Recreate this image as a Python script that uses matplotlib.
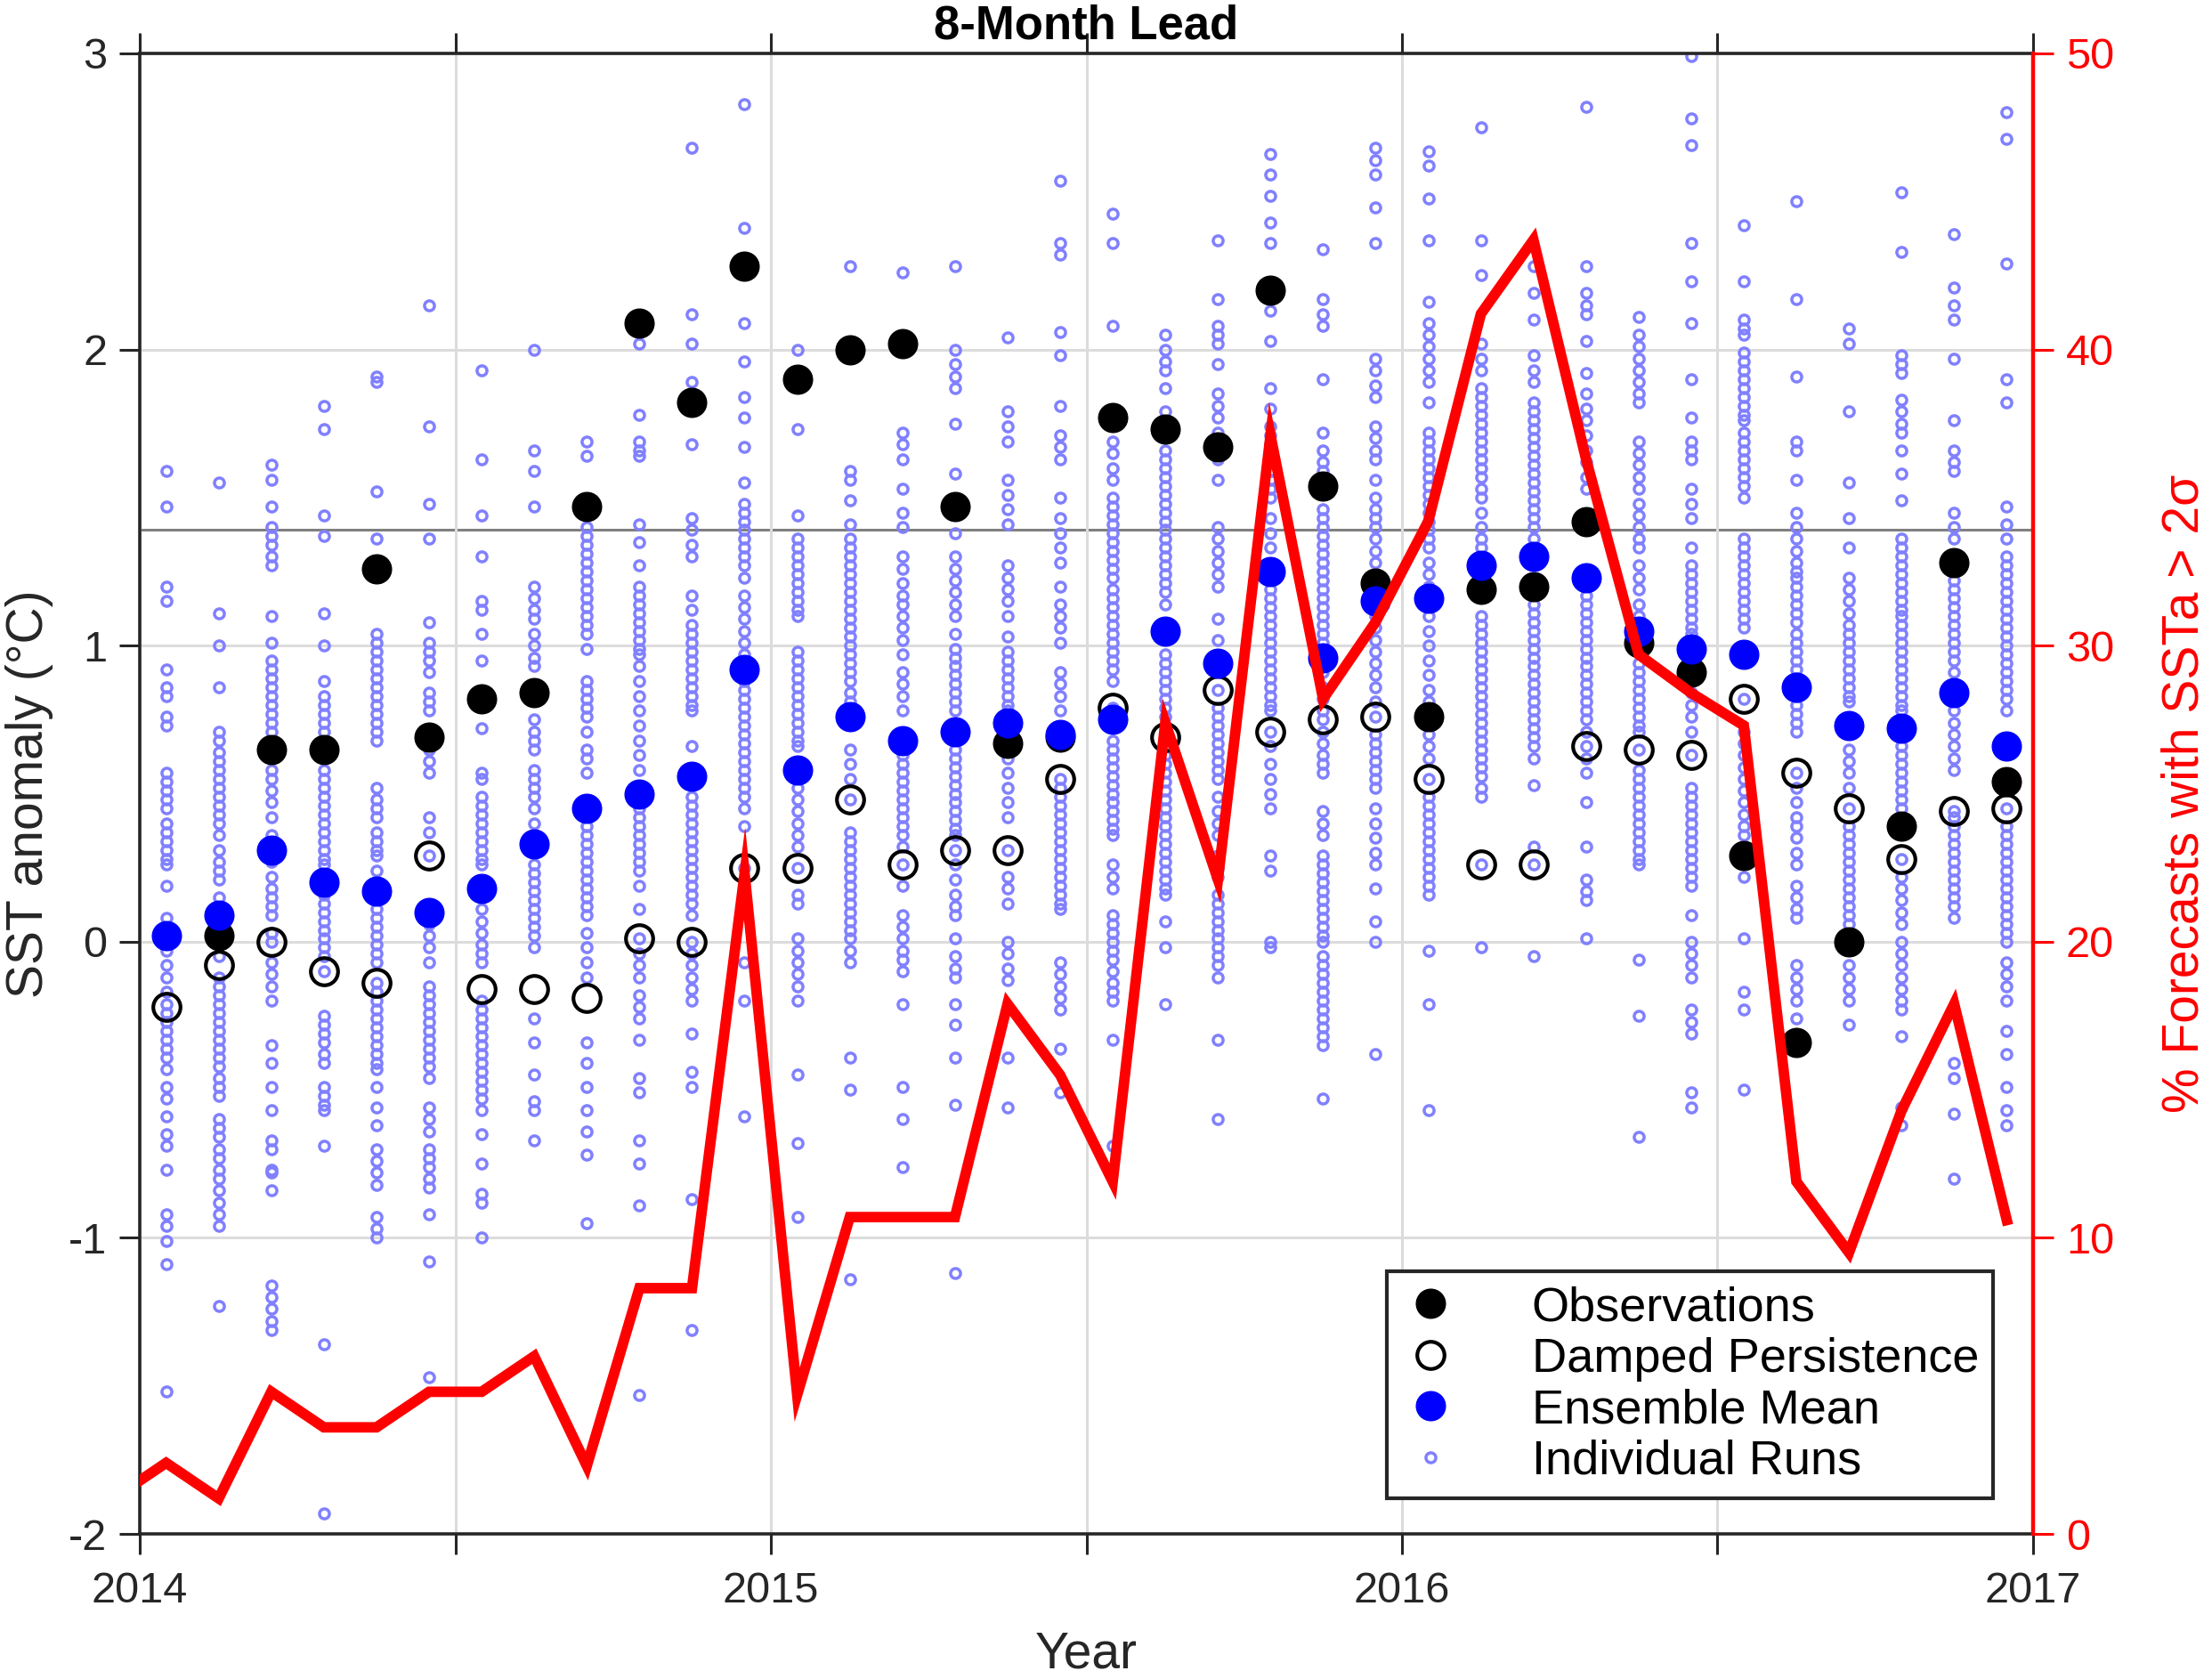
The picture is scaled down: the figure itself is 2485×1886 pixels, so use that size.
import numpy as np
import matplotlib
matplotlib.use("Agg")
import matplotlib.pyplot as plt
from matplotlib.lines import Line2D

plt.rcParams['font.family'] = ['Liberation Sans', 'DejaVu Sans']
plt.rcParams['axes.unicode_minus'] = False

# monthly values, Jan 2014 .. Dec 2016 (plotted mid-month)
month_idx = np.arange(36)

obs = [np.nan, 0.02, 0.65, 0.65, 1.26, 0.69, 0.82, 0.84, 1.47, 2.09, 1.82, 2.28,
       1.90, 2.00, 2.02, 1.47, 0.67, 0.69, 1.77, 1.73, 1.67, 2.20, 1.54, 1.21,
       0.76, 1.19, 1.20, 1.42, 1.01, 0.91, 0.29, -0.34, 0.00, 0.39, 1.28, 0.54]

damped = [-0.22, -0.08, 0.00, -0.10, -0.14, 0.29, -0.16, -0.16, -0.19, 0.01, 0.00, 0.25,
          0.25, 0.48, 0.26, 0.31, 0.31, 0.55, 0.79, 0.69, 0.85, 0.71, 0.75, 0.76,
          0.55, 0.26, 0.26, 0.66, 0.65, 0.63, 0.82, 0.57, 0.45, 0.28, 0.44, 0.45]

ens_mean = [0.02, 0.09, 0.31, 0.20, 0.17, 0.10, 0.18, 0.33, 0.45, 0.50, 0.56, 0.92,
            0.58, 0.76, 0.68, 0.71, 0.74, 0.70, 0.75, 1.05, 0.94, 1.25, 0.96, 1.15,
            1.16, 1.27, 1.30, 1.23, 1.05, 0.99, 0.97, 0.86, 0.73, 0.72, 0.84, 0.66]

# % of forecasts with SSTa > 2 sigma, Dec 2013 .. Dec 2016
pct_idx = np.arange(-1, 36)
pct_2sigma = [1.2, 2.4, 1.2, 4.8, 3.6, 3.6, 4.8, 4.8, 6.0, 2.3, 8.3, 8.3, 22.3,
              4.7, 10.7, 10.7, 10.7, 17.9, 15.5, 11.9, 27.4, 22.1, 37.1, 28.2, 30.8,
              34.2, 41.2, 43.7, 36.3, 29.7, 28.4, 27.3, 11.9, 9.5, 14.3, 17.9, 10.6]

THRESH = 1.39

# individual ensemble runs, one string per month
RUNS = [
    "1.59 1.47 1.20 1.15 0.92 0.86 0.83 0.76 0.73 0.57 0.54 0.51 0.48 0.45 0.40 0.37 0.34 0.31 0.28 0.26 0.19 0.08 -0.03 -0.08 -0.12 -0.17 -0.21 -0.24 -0.27 -0.30 -0.33 -0.36 -0.39 -0.43 -0.49 -0.53 -0.59 -0.65 -0.69 -0.77 -0.92 -0.96 -1.01 -1.09 -1.52",
    "1.55 1.11 1.00 0.86 0.71 0.68 0.64 0.61 0.58 0.55 0.52 0.49 0.46 0.43 0.40 0.36 0.31 0.27 0.24 0.21 0.15 0.05 -0.05 -0.12 -0.15 -0.18 -0.21 -0.24 -0.27 -0.30 -0.33 -0.36 -0.39 -0.42 -0.46 -0.49 -0.52 -0.60 -0.63 -0.66 -0.70 -0.73 -0.77 -0.80 -0.84 -0.88 -0.92 -0.96 -1.23",
    "1.61 1.56 1.47 1.40 1.37 1.34 1.30 1.27 1.10 1.01 0.95 0.92 0.89 0.86 0.83 0.80 0.77 0.74 0.71 0.65 0.58 0.55 0.51 0.47 0.42 0.36 0.31 0.27 0.22 0.18 0.15 0.12 0.09 0.03 0.00 -0.07 -0.11 -0.15 -0.20 -0.35 -0.41 -0.49 -0.57 -0.67 -0.70 -0.77 -0.78 -0.84 -1.16 -1.20 -1.24 -1.28 -1.31",
    "1.81 1.73 1.44 1.37 1.11 1.00 0.88 0.83 0.80 0.77 0.74 0.71 0.65 0.58 0.55 0.52 0.49 0.46 0.43 0.40 0.37 0.34 0.31 0.28 0.26 0.20 0.16 0.13 0.10 0.07 0.04 0.01 -0.02 -0.05 -0.10 -0.25 -0.28 -0.31 -0.34 -0.38 -0.41 -0.49 -0.52 -0.55 -0.57 -0.69 -1.36 -1.93",
    "1.91 1.89 1.52 1.36 1.26 1.04 1.01 0.98 0.95 0.92 0.89 0.86 0.83 0.80 0.77 0.74 0.71 0.68 0.52 0.48 0.45 0.42 0.37 0.34 0.31 0.29 0.24 0.17 0.11 0.08 0.05 0.02 -0.01 -0.04 -0.07 -0.14 -0.17 -0.20 -0.23 -0.26 -0.29 -0.32 -0.35 -0.38 -0.41 -0.43 -0.49 -0.56 -0.62 -0.70 -0.74 -0.78 -0.82 -0.93 -0.97 -1.00",
    "2.15 1.74 1.48 1.36 1.08 1.01 0.98 0.95 0.91 0.84 0.81 0.78 0.70 0.65 0.61 0.57 0.42 0.37 0.29 0.10 0.06 0.02 -0.02 -0.07 -0.15 -0.18 -0.21 -0.24 -0.27 -0.30 -0.33 -0.36 -0.39 -0.42 -0.46 -0.56 -0.60 -0.64 -0.70 -0.73 -0.76 -0.80 -0.83 -0.92 -1.08 -1.47",
    "1.93 1.63 1.44 1.30 1.15 1.12 1.04 0.95 0.72 0.57 0.55 0.49 0.46 0.43 0.40 0.37 0.34 0.31 0.28 0.26 0.18 0.11 0.07 0.03 -0.01 -0.04 -0.07 -0.20 -0.23 -0.26 -0.29 -0.32 -0.35 -0.38 -0.41 -0.44 -0.47 -0.50 -0.53 -0.57 -0.65 -0.75 -0.85 -0.88 -1.00",
    "2.00 1.66 1.59 1.47 1.20 1.16 1.12 1.09 1.04 1.00 0.96 0.93 0.75 0.71 0.68 0.65 0.58 0.55 0.52 0.49 0.45 0.40 0.26 0.23 0.20 0.17 0.14 0.11 0.08 0.05 0.02 -0.02 -0.26 -0.34 -0.45 -0.54 -0.57 -0.67",
    "1.69 1.64 1.40 1.37 1.34 1.31 1.28 1.25 1.22 1.19 1.16 1.13 1.10 1.07 1.04 0.99 0.88 0.85 0.82 0.79 0.76 0.71 0.65 0.62 0.57 0.45 0.39 0.36 0.33 0.30 0.27 0.24 0.21 0.18 0.15 0.12 0.09 0.03 -0.02 -0.07 -0.12 -0.34 -0.41 -0.49 -0.57 -0.64 -0.72 -0.95",
    "2.02 1.78 1.69 1.66 1.64 1.41 1.35 1.27 1.20 1.17 1.14 1.11 1.08 1.05 1.02 0.99 0.97 0.93 0.88 0.83 0.78 0.73 0.68 0.63 0.58 0.50 0.45 0.42 0.39 0.36 0.33 0.30 0.27 0.24 0.19 0.11 0.01 -0.04 -0.08 -0.12 -0.18 -0.22 -0.26 -0.33 -0.46 -0.51 -0.67 -0.75 -0.89 -1.53",
    "2.68 2.12 2.02 1.89 1.68 1.43 1.39 1.34 1.30 1.17 1.12 1.07 1.04 1.01 0.98 0.95 0.92 0.89 0.86 0.83 0.80 0.78 0.66 0.56 0.49 0.46 0.43 0.40 0.37 0.34 0.31 0.28 0.25 0.22 0.19 0.16 0.13 0.09 0.00 -0.04 -0.08 -0.12 -0.16 -0.20 -0.31 -0.44 -0.49 -0.87 -1.31",
    "2.83 2.41 2.09 1.96 1.84 1.77 1.67 1.55 1.48 1.45 1.42 1.39 1.36 1.33 1.30 1.27 1.23 1.17 1.13 1.09 1.05 1.01 0.97 0.92 0.88 0.85 0.82 0.79 0.76 0.73 0.70 0.67 0.64 0.61 0.58 0.55 0.52 0.49 0.45 0.39 0.25 -0.07 -0.20 -0.59",
    "2.00 1.73 1.44 1.36 1.33 1.30 1.27 1.24 1.21 1.18 1.15 1.12 1.10 0.98 0.95 0.92 0.89 0.86 0.83 0.80 0.77 0.74 0.71 0.68 0.66 0.58 0.52 0.48 0.44 0.40 0.36 0.32 0.25 0.16 0.13 0.01 -0.03 -0.07 -0.11 -0.15 -0.20 -0.45 -0.68 -0.93",
    "2.28 1.59 1.56 1.49 1.41 1.36 1.33 1.30 1.27 1.24 1.21 1.18 1.15 1.12 1.09 1.06 1.03 1.00 0.97 0.94 0.91 0.88 0.84 0.81 0.76 0.65 0.60 0.55 0.48 0.37 0.34 0.31 0.28 0.25 0.22 0.19 0.16 0.13 0.10 0.07 0.04 0.01 -0.03 -0.07 -0.39 -0.50 -1.14",
    "2.26 1.72 1.68 1.63 1.53 1.45 1.40 1.30 1.26 1.21 1.17 1.14 1.10 1.06 1.02 0.97 0.91 0.87 0.83 0.78 0.68 0.63 0.60 0.57 0.54 0.51 0.48 0.45 0.42 0.39 0.36 0.32 0.26 0.19 0.09 0.05 0.01 -0.03 -0.06 -0.10 -0.21 -0.49 -0.60 -0.76",
    "2.28 2.00 1.95 1.91 1.87 1.75 1.58 1.38 1.30 1.26 1.22 1.18 1.14 1.10 1.04 0.99 0.96 0.93 0.90 0.87 0.84 0.81 0.78 0.71 0.65 0.62 0.59 0.56 0.53 0.50 0.47 0.44 0.41 0.38 0.36 0.31 0.26 0.21 0.16 0.12 0.09 0.01 -0.05 -0.09 -0.12 -0.21 -0.28 -0.39 -0.55 -1.12",
    "2.04 1.79 1.74 1.69 1.56 1.51 1.46 1.41 1.27 1.23 1.19 1.15 1.10 1.03 0.98 0.95 0.92 0.89 0.86 0.83 0.80 0.78 0.74 0.67 0.62 0.57 0.52 0.47 0.42 0.31 0.22 0.18 0.13 0.00 -0.04 -0.09 -0.13 -0.39 -0.56",
    "2.57 2.36 2.32 2.06 1.98 1.81 1.71 1.67 1.63 1.50 1.43 1.38 1.33 1.28 1.20 1.14 1.10 1.06 1.01 0.91 0.87 0.83 0.78 0.70 0.55 0.52 0.49 0.46 0.43 0.40 0.37 0.34 0.31 0.28 0.25 0.22 0.19 0.16 0.13 0.11 -0.07 -0.11 -0.15 -0.19 -0.23 -0.36 -0.51",
    "2.46 2.36 2.08 1.77 1.69 1.65 1.60 1.56 1.50 1.47 1.44 1.41 1.38 1.35 1.32 1.29 1.26 1.23 1.19 1.16 1.13 1.10 1.07 1.04 1.01 0.98 0.95 0.92 0.88 0.79 0.75 0.68 0.65 0.62 0.59 0.56 0.53 0.50 0.47 0.44 0.41 0.38 0.36 0.26 0.22 0.18 0.09 0.06 0.03 0.00 -0.03 -0.06 -0.10 -0.14 -0.17 -0.20 -0.33 -0.69",
    "2.05 2.00 1.96 1.93 1.87 1.79 1.73 1.66 1.63 1.60 1.57 1.54 1.51 1.48 1.45 1.42 1.39 1.36 1.33 1.30 1.27 1.24 1.21 1.18 1.14 1.05 0.97 0.94 0.91 0.88 0.85 0.82 0.79 0.76 0.73 0.69 0.63 0.60 0.57 0.54 0.51 0.48 0.45 0.42 0.39 0.36 0.33 0.30 0.27 0.24 0.21 0.18 0.16 0.07 -0.02 -0.21",
    "2.37 2.17 2.08 2.05 2.02 1.95 1.85 1.81 1.77 1.72 1.67 1.63 1.56 1.40 1.36 1.32 1.28 1.24 1.20 1.09 1.02 0.94 0.85 0.79 0.76 0.73 0.70 0.67 0.64 0.61 0.58 0.55 0.49 0.44 0.40 0.36 0.29 0.25 0.22 0.16 0.13 0.10 0.07 0.04 0.01 -0.02 -0.05 -0.08 -0.12 -0.33 -0.60",
    "2.66 2.59 2.52 2.43 2.36 2.20 2.13 2.03 1.87 1.80 1.74 1.71 1.68 1.65 1.62 1.59 1.56 1.53 1.50 1.43 1.38 1.33 1.25 1.19 1.16 1.13 1.10 1.07 1.04 1.01 0.98 0.95 0.92 0.89 0.86 0.83 0.80 0.78 0.71 0.66 0.60 0.55 0.50 0.45 0.29 0.24 0.00 -0.02",
    "2.34 2.17 2.12 2.08 1.90 1.72 1.66 1.62 1.59 1.53 1.46 1.43 1.40 1.37 1.34 1.31 1.28 1.25 1.22 1.19 1.16 1.13 1.10 1.07 1.04 1.01 0.96 0.91 0.86 0.82 0.78 0.75 0.71 0.67 0.63 0.60 0.57 0.44 0.40 0.36 0.29 0.26 0.23 0.20 0.17 0.14 0.11 0.08 0.05 0.02 0.00 -0.05 -0.08 -0.11 -0.14 -0.17 -0.20 -0.23 -0.26 -0.29 -0.32 -0.35 -0.53",
    "2.68 2.64 2.59 2.48 2.36 1.97 1.93 1.88 1.84 1.74 1.70 1.66 1.63 1.56 1.50 1.46 1.43 1.40 1.36 1.32 1.28 1.21 1.15 1.10 1.06 1.02 0.98 0.94 0.90 0.86 0.81 0.76 0.70 0.67 0.64 0.61 0.58 0.55 0.52 0.45 0.40 0.35 0.30 0.26 0.18 0.07 0.00 -0.38",
    "2.67 2.62 2.51 2.37 2.16 2.09 2.05 2.01 1.97 1.93 1.89 1.82 1.72 1.69 1.66 1.63 1.60 1.57 1.54 1.51 1.48 1.45 1.42 1.39 1.36 1.33 1.28 1.24 1.20 1.16 1.10 1.05 1.00 0.95 0.90 0.85 0.81 0.76 0.70 0.66 0.62 0.55 0.49 0.46 0.43 0.40 0.37 0.34 0.31 0.28 0.25 0.22 0.19 0.16 -0.03 -0.21 -0.57",
    "2.75 2.37 2.25 2.02 1.97 1.93 1.87 1.84 1.81 1.78 1.75 1.72 1.69 1.66 1.63 1.60 1.57 1.53 1.50 1.45 1.40 1.36 1.33 1.27 1.19 1.10 1.07 1.04 1.01 0.98 0.95 0.92 0.89 0.86 0.83 0.80 0.77 0.74 0.71 0.68 0.65 0.62 0.59 0.56 0.52 0.49 0.26 -0.02",
    "2.28 2.19 2.10 1.98 1.93 1.89 1.82 1.79 1.76 1.73 1.70 1.67 1.64 1.61 1.58 1.55 1.52 1.49 1.46 1.43 1.40 1.36 1.30 1.20 1.14 1.11 1.08 1.05 1.02 0.99 0.96 0.93 0.90 0.87 0.84 0.81 0.78 0.75 0.72 0.69 0.66 0.62 0.53 0.32 0.26 -0.05",
    "2.82 2.28 2.19 2.15 2.12 2.03 1.92 1.85 1.80 1.76 1.71 1.66 1.62 1.57 1.53 1.42 1.23 1.17 1.14 1.11 1.08 1.05 1.02 0.99 0.96 0.93 0.90 0.87 0.84 0.81 0.78 0.75 0.71 0.66 0.62 0.57 0.47 0.32 0.21 0.17 0.14 0.01",
    "2.11 2.05 2.01 1.97 1.93 1.89 1.85 1.82 1.69 1.65 1.61 1.57 1.53 1.48 1.44 1.40 1.36 1.33 1.27 1.23 1.19 1.14 1.10 1.05 1.01 0.94 0.91 0.88 0.85 0.82 0.79 0.76 0.73 0.71 0.65 0.58 0.55 0.52 0.49 0.46 0.43 0.40 0.37 0.34 0.31 0.28 0.26 -0.06 -0.25 -0.66",
    "2.99 2.78 2.69 2.36 2.23 2.09 1.90 1.77 1.69 1.66 1.63 1.53 1.48 1.43 1.33 1.27 1.24 1.21 1.18 1.15 1.12 1.09 1.06 1.04 0.99 0.91 0.84 0.80 0.76 0.71 0.63 0.52 0.49 0.46 0.43 0.40 0.37 0.34 0.31 0.28 0.25 0.22 0.19 0.09 0.00 -0.04 -0.08 -0.12 -0.23 -0.27 -0.31 -0.51 -0.56",
    "2.42 2.23 2.10 2.07 2.05 1.99 1.96 1.93 1.90 1.87 1.84 1.81 1.78 1.76 1.72 1.69 1.66 1.63 1.60 1.57 1.54 1.50 1.36 1.33 1.30 1.27 1.24 1.21 1.18 1.15 1.12 1.09 1.06 0.97 0.82 0.71 0.67 0.63 0.59 0.55 0.51 0.47 0.43 0.39 0.36 0.29 0.22 0.01 -0.17 -0.23 -0.50",
    "2.50 2.17 1.91 1.69 1.66 1.56 1.45 1.40 1.36 1.32 1.28 1.25 1.23 1.20 1.17 1.14 1.11 1.08 1.04 1.01 0.98 0.95 0.92 0.89 0.86 0.83 0.80 0.77 0.74 0.71 0.57 0.52 0.47 0.42 0.39 0.35 0.30 0.26 0.19 0.15 0.11 0.08 -0.08 -0.12 -0.16 -0.20 -0.26",
    "2.07 2.02 1.79 1.55 1.43 1.33 1.23 1.19 1.15 1.11 1.07 1.04 1.01 0.98 0.95 0.92 0.89 0.86 0.83 0.81 0.73 0.65 0.61 0.57 0.52 0.45 0.39 0.36 0.33 0.30 0.27 0.24 0.21 0.18 0.15 0.12 0.09 0.06 0.00 -0.08 -0.12 -0.16 -0.20 -0.28",
    "2.53 2.33 1.98 1.95 1.92 1.83 1.79 1.75 1.72 1.66 1.58 1.49 1.36 1.33 1.30 1.27 1.24 1.21 1.18 1.15 1.12 1.10 1.07 1.04 1.01 0.98 0.95 0.92 0.89 0.86 0.83 0.80 0.78 0.72 0.66 0.63 0.60 0.57 0.54 0.51 0.48 0.45 0.39 0.28 0.22 0.18 0.14 0.10 0.06 0.00 -0.04 -0.08 -0.12 -0.16 -0.20 -0.23 -0.32 -0.56 -0.62",
    "2.39 2.21 2.15 2.10 1.97 1.76 1.66 1.62 1.59 1.45 1.40 1.36 1.28 1.22 1.19 1.16 1.13 1.10 1.07 1.04 1.01 0.98 0.95 0.91 0.84 0.78 0.74 0.70 0.66 0.62 0.58 0.44 0.42 0.39 0.36 0.33 0.30 0.27 0.24 0.21 0.18 0.15 0.12 0.08 -0.41 -0.46 -0.58 -0.80",
    "2.80 2.71 2.29 1.90 1.82 1.47 1.41 1.36 1.30 1.27 1.24 1.21 1.18 1.15 1.12 1.09 1.06 1.03 1.00 0.97 0.94 0.91 0.88 0.85 0.82 0.78 0.66 0.54 0.45 0.39 0.36 0.33 0.30 0.27 0.24 0.21 0.18 0.15 0.12 0.09 0.06 0.03 0.00 -0.07 -0.11 -0.15 -0.20 -0.30 -0.38 -0.49 -0.57 -0.62",
]


def month_to_year(m):
    # decimal year at the middle of month m (0 = Jan 2014)
    return 2014 + (np.asarray(m) + 0.5) / 12


x = month_to_year(month_idx)
runs = [np.array(s.split(), dtype=float) for s in RUNS]
run_x = np.concatenate([np.full(len(r), xi) for r, xi in zip(runs, x)])
run_y = np.concatenate(runs)

DARK = "#262626"
RUN_C = "#8080ff"

fig = plt.figure(figsize=(24.85, 18.86), dpi=100)
ax = fig.add_axes([0.0632, 0.0864, 0.8559, 0.8818])

ax.grid(True, color="#dcdcdc", lw=2.2, zorder=0)
ax.axhline(THRESH, color="#808080", lw=2.2, zorder=1)

ax.plot(run_x, run_y, "o", ms=8, mfc="none", mec=RUN_C, mew=2.5, zorder=2)
ax.plot(x, obs, "o", ms=23.5, color="black", zorder=3)
ax.plot(x, damped, "o", ms=22, mfc="none", mec="black", mew=3.0, zorder=4)
ax.plot(x, ens_mean, "o", ms=23.5, color="#0000ff", zorder=5)

ax.set_xlim(2014, 2017)
ax.set_ylim(-2, 3)
ax.set_xticks(np.arange(2014, 2017.01, 0.5))
ax.set_xticklabels(["2014", "", "2015", "", "2016", "", "2017"])
ax.set_yticks(np.arange(-2, 4))
ax.set_yticklabels(["-2", "-1", "0", "1", "2", "3"])
ax.tick_params(axis="both", direction="out", length=16.5, width=2.2,
               colors=DARK, labelsize=35, top=True)
ax.tick_params(axis="x", pad=14)
ax.tick_params(axis="y", pad=10)
for s in ["left", "bottom", "top"]:
    ax.spines[s].set_color(DARK)
    ax.spines[s].set_linewidth(2.6)
ax.spines["right"].set_visible(False)

ax.set_xlabel("Year", fontsize=41, color=DARK, labelpad=15)
ax.set_ylabel("SST anomaly (°C)", fontsize=41, color=DARK, labelpad=12)
ax.text(0.5, 1.0102, "8-Month Lead", transform=ax.transAxes, ha="center",
        va="baseline", fontsize=38, fontweight="bold", color="black")

# right axis: percentage of forecasts
ax2 = ax.twinx()
ax2.plot(month_to_year(pct_idx), pct_2sigma, color="#ff0000", lw=8.5,
         solid_joinstyle="miter", zorder=3)
ax2.set_ylim(0, 50)
ax2.set_xlim(2014, 2017)
ax2.set_yticks(np.arange(0, 51, 10))
ax2.tick_params(axis="y", direction="out", length=16.5, width=2.2,
                colors="#ff0000", labelsize=35, pad=10)
for s in ["left", "bottom", "top"]:
    ax2.spines[s].set_visible(False)
ax2.spines["right"].set_color("#ff0000")
ax2.spines["right"].set_linewidth(3.2)
ax2.set_ylabel("% Forecasts with SSTa > 2σ", fontsize=41, color="#ff0000",
               labelpad=38)

handles = [
    Line2D([], [], ls="none", marker="o", ms=23.5, color="black"),
    Line2D([], [], ls="none", marker="o", ms=22, mfc="none", mec="black", mew=3.0),
    Line2D([], [], ls="none", marker="o", ms=23.5, color="#0000ff"),
    Line2D([], [], ls="none", marker="o", ms=8, mfc="none", mec=RUN_C, mew=2.5),
]
labels = ["Observations", "Damped Persistence", "Ensemble Mean", "Individual Runs"]
leg = ax2.legend(handles, labels, loc="lower right", bbox_to_anchor=(0.979, 0.024),
                 fontsize=39, frameon=True, fancybox=False, framealpha=1,
                 edgecolor=DARK, handlelength=1.2, handletextpad=1.5,
                 labelspacing=0.14, borderpad=0.3, borderaxespad=0)
leg.get_frame().set_linewidth(3.0)
leg.set_zorder(10)

fig.savefig("out.png", dpi=100)
